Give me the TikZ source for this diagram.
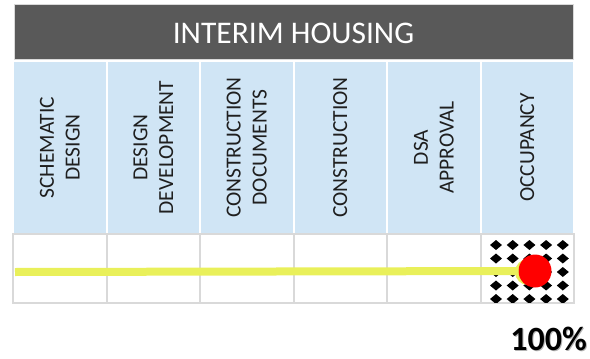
\documentclass[tikz,border=0pt]{standalone}
\usepackage{fontspec}
\setmainfont{Carlito}
\usetikzlibrary{positioning}
\definecolor{headgray}{RGB}{89,89,89}
\definecolor{phaseblue}{RGB}{208,229,245}
\definecolor{gridgray}{RGB}{217,217,217}
\definecolor{baryellow}{RGB}{233,240,90}

\begin{document}
\begin{tikzpicture}[x=1pt,y=-1pt,
    phase/.style={fill=phaseblue, rotate=90, minimum width=171pt, minimum height=91.5pt,
      inner sep=0pt, align=center, text=black!88, font=\fontsize{21.5}{25.8}\selectfont},
    cell/.style={draw=gridgray, line width=2pt, minimum width=93.5pt, minimum height=69pt, inner sep=0pt},
    pctfont/.style={anchor=base east, inner sep=0pt, font=\bfseries\fontsize{34}{40}\selectfont}]
    \useasboundingbox (0,0) rectangle (590,359);
    % header
    \node[fill=headgray, draw=gridgray, line width=0.6pt, minimum width=559pt, minimum height=55pt,
      inner sep=0pt] (head) at (293.5,31.5) {};
    \node[anchor=base, inner sep=0pt, text=white, font=\fontsize{31.5}{38}\selectfont] (title) at (293.5,43) {INTERIM HOUSING};
    % phases
    \foreach \txt [count=\i from 0] in {{SCHEMATIC\\DESIGN},{DESIGN\\DEVELOPMENT},
        {CONSTRUCTION\\DOCUMENTS},{CONSTRUCTION},{DSA\\APPROVAL},{OCCUPANCY}}
      \node[phase] (c\i) at ({59.75+93.5*\i},147.5) {\txt};
    % progress row
    \foreach \i in {0,...,5}
      \node[cell] (b\i) at ({59.75+93.5*\i},268.5) {};
    \begin{scope}
      \clip (482,235) rectangle (573,302);
      \foreach \u in {0,...,4}
        \foreach \v in {0,...,4}
          \fill ({496+16.7*\u},{245+13.5*\v-5}) -- ++(6,5) -- ++(-6,5) -- ++(-6,-5) -- cycle;
    \end{scope}
    \fill[baryellow] (528,272) circle (13pt);
    \node[circle, fill=red, minimum size=33pt, inner sep=0pt] (dot) at (535,271) {};
    \coordinate (start) at (15,272);
    \draw[baryellow, line width=8pt] (start) -- (dot);
    \node[pctfont, text=black!30] (pctshade) at (588,351.5) {100\%};
    \node[pctfont] (pct) at (587,350) {100\%};
\end{tikzpicture}
\end{document}
